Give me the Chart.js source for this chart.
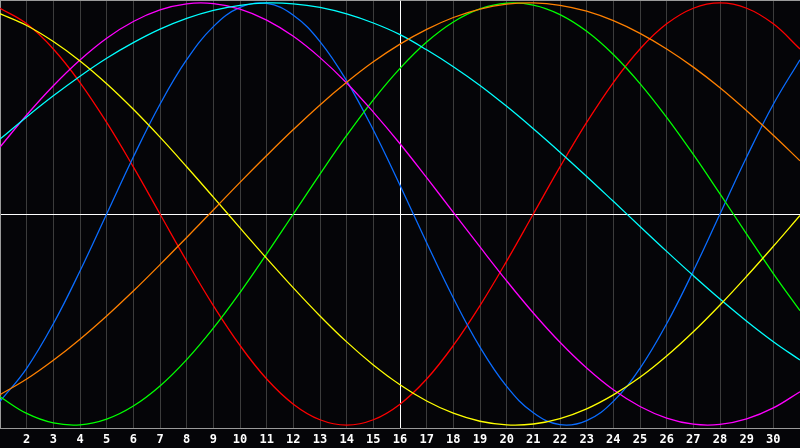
<!DOCTYPE html>
<html>
<head>
<meta charset="utf-8">
<script src="https://cdn.jsdelivr.net/npm/chart.js@4/dist/chart.umd.min.js"></script>
<style>
  html, body { margin: 0; padding: 0; background: #050508; }
  #wrap { width: 800px; height: 448px; }
</style>
</head>
<body>
<div id="wrap"><canvas id="bio" width="800" height="448"></canvas></div>
<script>
// days of the month shown on the x axis
const days = [1, 2, 3, 4, 5, 6, 7, 8, 9, 10, 11, 12, 13, 14, 15, 16, 17, 18, 19, 20,
              21, 22, 23, 24, 25, 26, 27, 28, 29, 30, 31];
const today = 16;

// curve values in percent, one day at a time
const red = [97.5, 90.1, 78.2, 62.3, 43.4, 22.3, 0, -22.3, -43.4, -62.3, -78.2, -90.1, -97.5, -100, -97.5,
             -90.1, -78.2, -62.3, -43.4, -22.3, 0, 22.3, 43.4, 62.3, 78.2, 90.1, 97.5, 100, 97.5, 90.1, 78.2];
const green = [-86.6, -94.5, -99.0, -99.9, -97.2, -91.0, -81.5, -69.0, -54.1, -37.2, -18.9, 0, 18.9, 37.2, 54.1,
               69.0, 81.5, 91.0, 97.2, 99.9, 99.0, 94.5, 86.6, 75.6, 61.8, 45.8, 28.2, 9.5, -9.5, -28.2, -45.8];
const blue = [-88.8, -73.1, -52.0, -27.0, 0, 27.0, 52.0, 73.1, 88.8, 97.9, 99.8, 94.2, 81.7, 63.1, 39.8,
              13.6, -13.6, -39.8, -63.1, -81.7, -94.2, -99.8, -97.9, -88.8, -73.1, -52.0, -27.0, 0, 27.0, 52.0, 73.1];
const magenta = [31.7, 46.9, 60.8, 73.0, 83.3, 91.2, 96.7, 99.6, 99.7, 97.1, 91.9, 84.2, 74.1, 62.1, 48.3,
                 33.3, 17.2, 0.8, -15.6, -31.7, -46.9, -60.8, -73.0, -83.3, -91.2, -96.7, -99.6, -99.7, -97.1, -91.9, -84.2];
const cyan = [35.5, 46.0, 56.0, 65.3, 73.8, 81.2, 87.6, 92.7, 96.5, 98.9, 100, 99.6, 97.9, 94.8, 90.5,
              85.0, 77.8, 69.8, 60.9, 51.0, 40.4, 29.3, 17.8, 6.0, -5.9, -17.7, -29.2, -40.3, -50.8, -60.5, -69.2];
const orange = [-85.6, -78.2, -69.3, -59.3, -48.3, -36.5, -24.0, -11.1, 1.9, 15.0, 27.7, 40.0, 51.7, 62.4, 72.1,
                80.5, 87.5, 93.1, 97.1, 99.4, 100, 98.9, 96.1, 91.6, 85.6, 78.2, 69.6, 59.8, 48.9, 37.3, 25.2];
const yellow = [94.9, 89.3, 81.7, 72.5, 61.7, 49.6, 36.4, 22.4, 8.0, -6.6, -21.0, -35.0, -48.3, -60.6, -71.5,
                -80.9, -88.6, -94.4, -98.2, -99.9, -99.5, -96.9, -92.3, -85.7, -77.4, -67.3, -55.8, -43.1, -29.5, -15.3, -0.7];

const yLimit = 101.4;

// paint the near-black background behind everything
const background = {
    id: 'background',
    beforeDraw(chart) {
        const c = chart.ctx;
        c.save();
        c.fillStyle = '#050508';
        c.fillRect(0, 0, chart.width, chart.height);
        c.restore();
    }
};

function curve(values, color) {
    return {
        data: values,
        borderColor: color,
        borderWidth: 1.3,
        pointRadius: 0,
        pointHoverRadius: 0,
        tension: 0.4,
        fill: false
    };
}

new Chart(document.getElementById('bio').getContext('2d'), {
    type: 'line',
    data: {
        labels: days,
        datasets: [
            curve(orange, '#ff8000'),
            curve(yellow, '#ffff00'),
            curve(cyan, '#00ffff'),
            curve(magenta, '#ff00ff'),
            curve(green, '#00ff00'),
            curve(blue, '#0a6cff'),
            curve(red, '#ff0000')
        ]
    },
    options: {
        responsive: false,
        devicePixelRatio: 1,
        animation: false,
        layout: { padding: 0, autoPadding: false },
        plugins: {
            legend: { display: false },
            tooltip: { enabled: false }
        },
        scales: {
            x: {
                type: 'category',
                offset: false,
                // the plot runs edge to edge, labels sit in a 20px strip below it
                afterFit: scale => {
                    scale.paddingLeft = 0;
                    scale.paddingRight = 0;
                    scale.height = 20;
                },
                grid: {
                    drawTicks: false,
                    color: ctx => {
                        const d = days[ctx.index];
                        if (d === today) return '#ffffff';
                        if (d === days[0]) return '#9a9a9a';
                        return '#3c3c3c';
                    }
                },
                border: { display: true, color: '#9a9a9a', width: 1 },
                ticks: {
                    autoSkip: false,
                    maxRotation: 0,
                    padding: 5,
                    color: '#ffffff',
                    font: { family: 'DejaVu Sans Mono', size: 12, weight: 'bold' },
                    callback: (v, i) => (i === 0 || i === days.length - 1) ? '' : String(days[i])
                }
            },
            y: {
                min: -yLimit,
                max: yLimit,
                afterFit: scale => { scale.width = 0; },
                grid: {
                    drawTicks: false,
                    color: ctx => {
                        const v = ctx.tick.value;
                        if (v === 0) return '#ffffff';
                        if (v === yLimit) return '#9a9a9a';
                        return 'rgba(0,0,0,0)';
                    }
                },
                border: { display: true, color: '#9a9a9a', width: 1 },
                ticks: { display: false, stepSize: yLimit }
            }
        }
    },
    plugins: [background]
});
</script>
</body>
</html>
